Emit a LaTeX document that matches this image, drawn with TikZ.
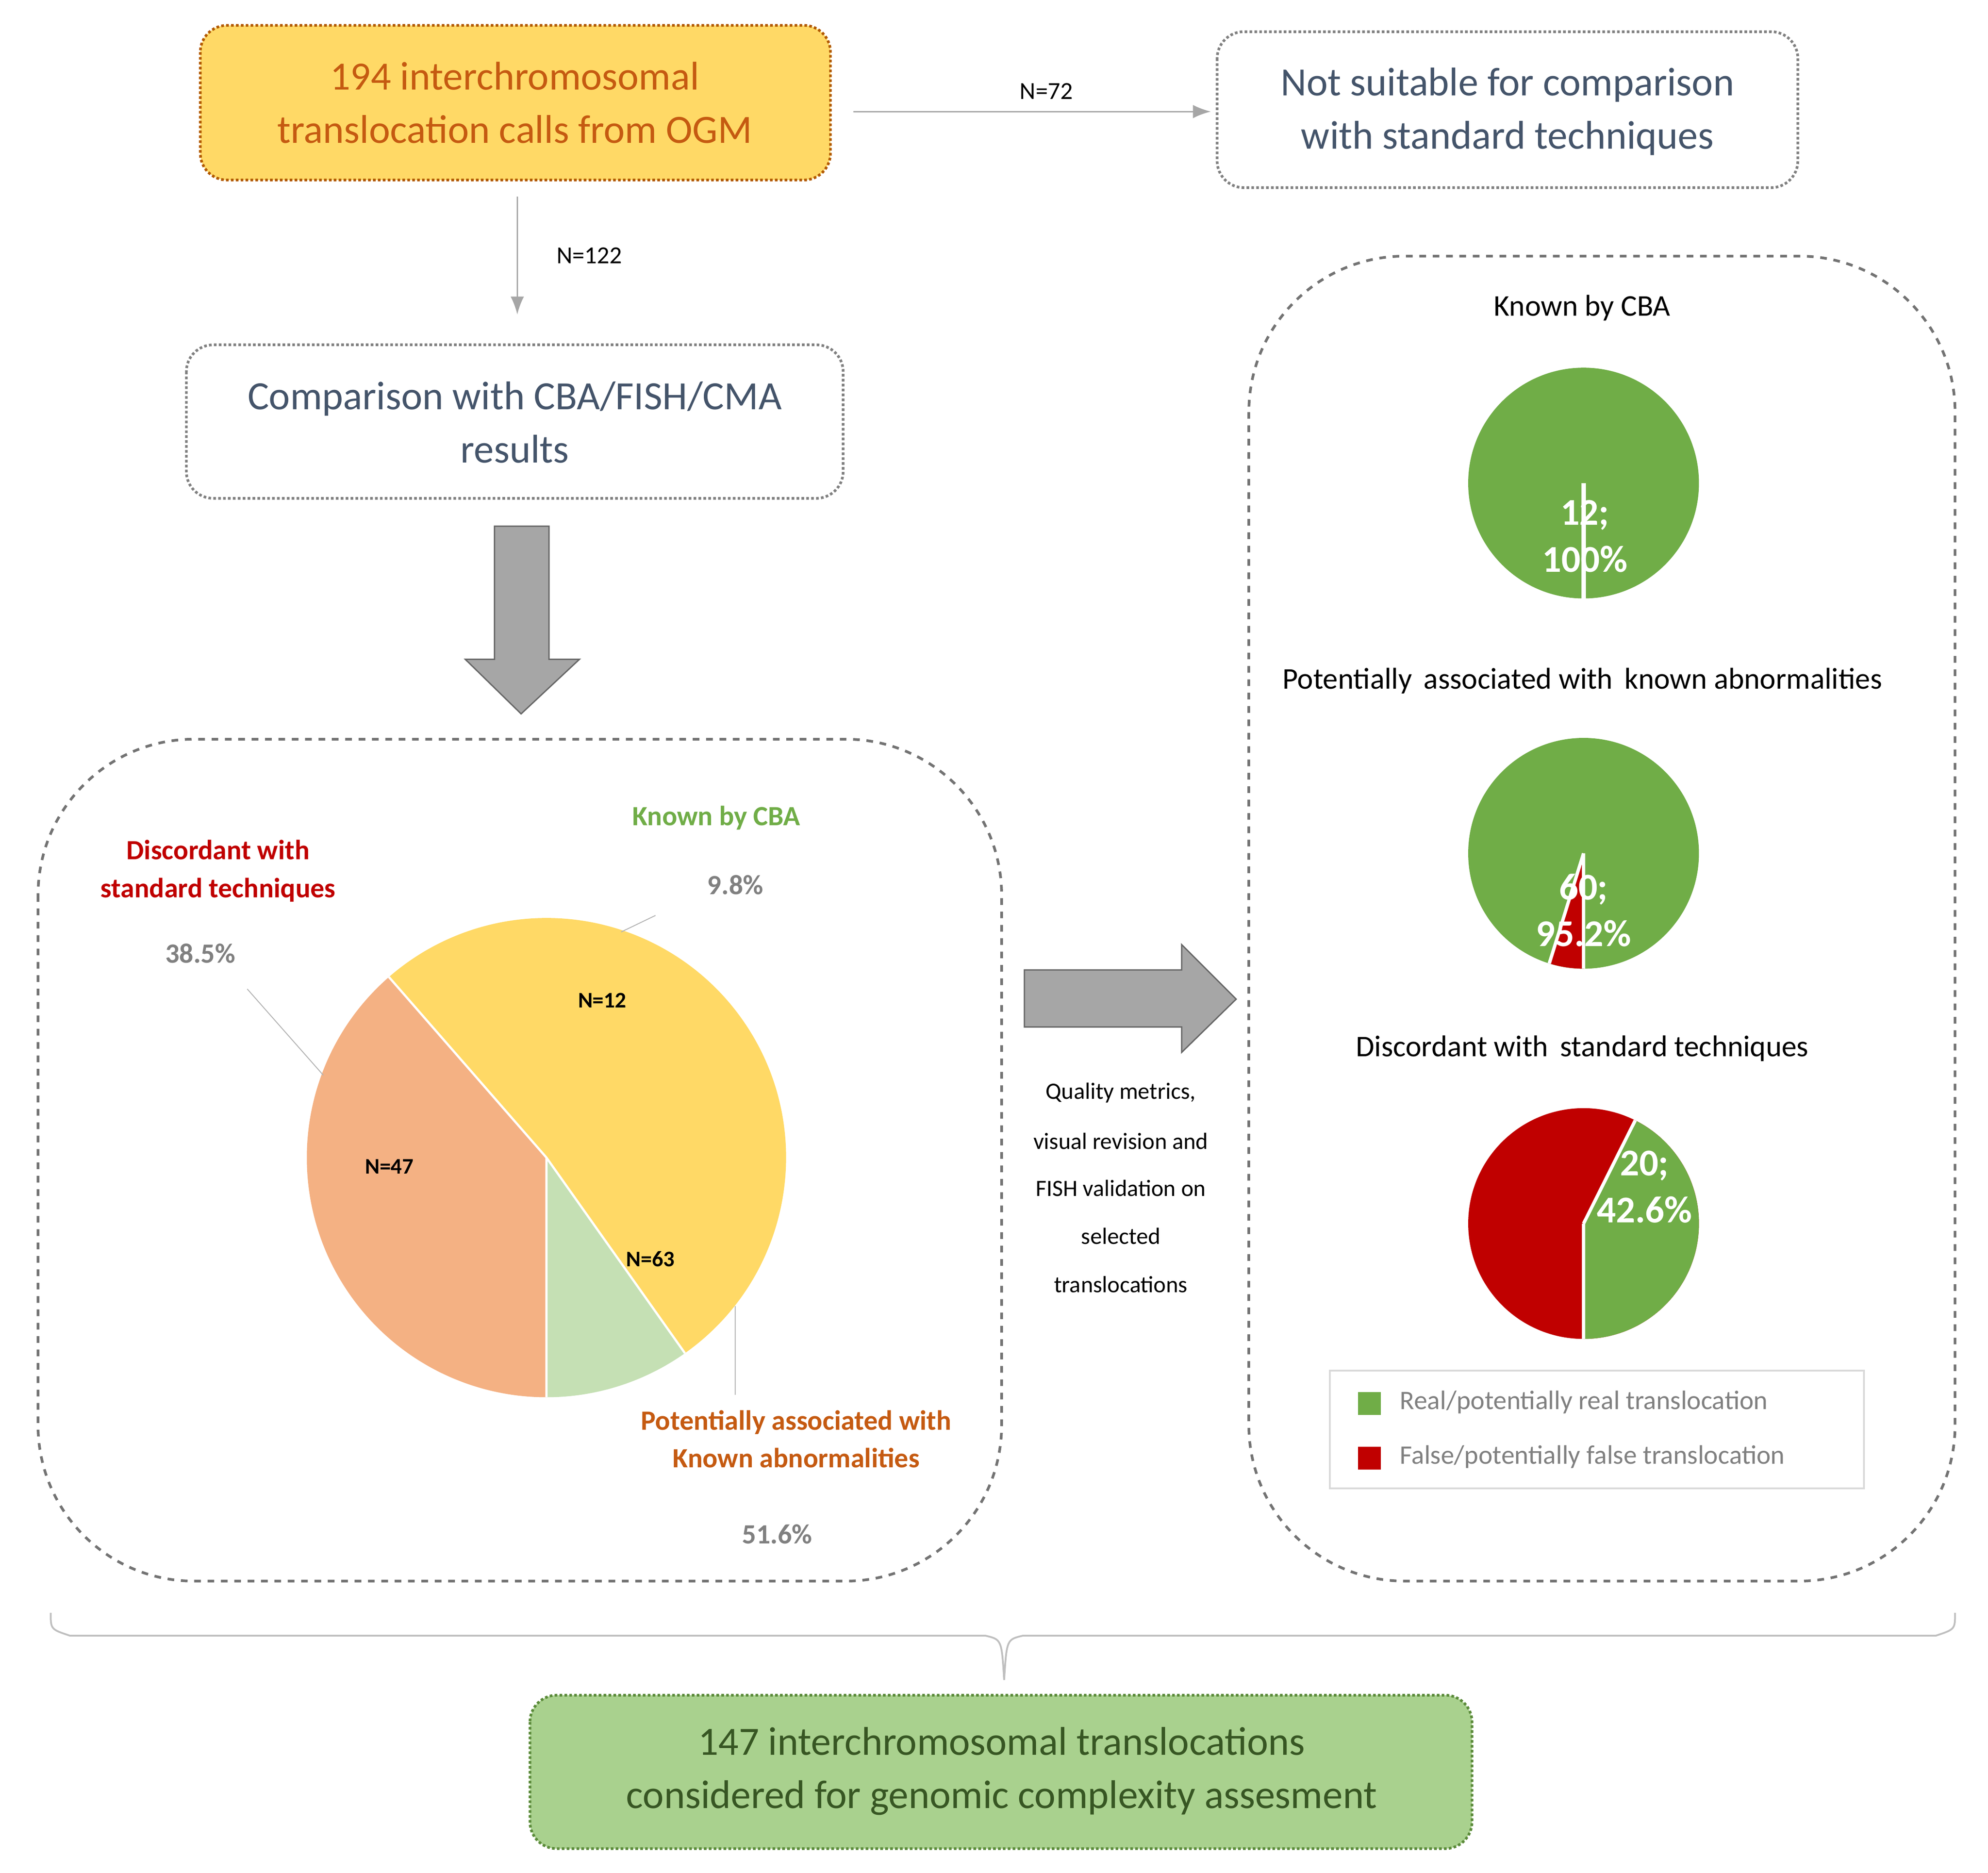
\documentclass[tikz,border=0pt]{standalone}
\usepackage{fontspec}
\setmainfont{Carlito}
\usetikzlibrary{arrows.meta}
\definecolor{ttxt}{HTML}{C55A11}
\definecolor{tfill}{HTML}{FFD966}
\definecolor{bluegray}{HTML}{44546A}
\definecolor{lgreen}{HTML}{C5E0B4}
\definecolor{salmon}{HTML}{F4B183}
\definecolor{pgreen}{HTML}{70AD47}
\definecolor{pred}{HTML}{C00000}
\definecolor{bfill}{HTML}{A9D18E}
\definecolor{btxt}{HTML}{375623}
\definecolor{garr}{HTML}{A6A6A6}
\tikzset{
 box/.style={draw=gray,densely dotted,line width=1.2pt,rounded corners=12pt},
 big/.style={font=\fontsize{18}{24}\selectfont,align=center},
 ptitle/.style={font=\fontsize{13.5}{16}\selectfont},
 nlab/.style={font=\bfseries\fontsize{10}{12}\selectfont},
 inner/.style={font=\bfseries\fontsize{17}{21}\selectfont,text=white,align=center},
 thin/.style={draw=gray!70,line width=0.6pt,-{Latex[length=8pt]}},
 qtxt/.style={font=\fontsize{10.5}{12}\selectfont},
 dashbox/.style={draw=gray!90!black,dashed,line width=1.2pt,rounded corners=70pt},
 blk/.style={fill=garr,draw=gray!80!black,line width=0.6pt},
}
\begin{document}
\begin{tikzpicture}[x=0.02cm,y=-0.02cm]
\useasboundingbox (0,0) rectangle (1568,1477);
% top boxes
\draw[box,fill=tfill,draw=orange!70!black] (158,20) rectangle (655,142);
\node[big,text=ttxt] (t1) at (406,81) {194 interchromosomal\\translocation calls from OGM};
\draw[box] (960,25) rectangle (1418,148);
\node[big,text=bluegray] (t2) at (1189,88) {Not suitable for comparison\\with standard techniques};
\coordinate (a1) at (673,88); \coordinate (a2) at (955,88);
\draw[thin] (a1) -- node[above,font=\fontsize{11}{13}\selectfont,pos=0.54,yshift=2pt]{N=72} (a2);
\coordinate (b1) at (408,155); \coordinate (b2) at (408,248);
\draw[thin] (b1) -- node[right,font=\fontsize{11}{13}\selectfont,xshift=14pt]{N=122} (b2);
\draw[box] (147,272) rectangle (665,393);
\node[big,text=bluegray] (t3) at (406,333) {Comparison with CBA/FISH/CMA\\results};
% down block arrow
\draw[blk] (390,415) -- (433,415) -- (433,520) -- (457,520) -- (411,563) -- (367,520) -- (390,520) -- cycle;
% left dashed box
\draw[dashbox] (30,583) rectangle (790,1247);
% big pie
\def\R{189}
\fill[lgreen] (431,913) -- ++(90:\R) arc[start angle=90,end angle=54.7,radius=\R] -- cycle;
\fill[tfill] (431,913) -- ++(54.7:\R) arc[start angle=54.7,end angle=-131.1,radius=\R] -- cycle;
\fill[salmon] (431,913) -- ++(-131.1:\R) arc[start angle=-131.1,end angle=-270,radius=\R] -- cycle;
\draw[white,line width=1pt] (431,913) -- ++(90:\R) (431,913) -- ++(54.7:\R) (431,913) -- ++(-131.1:\R);
\node[nlab] (n12) at (475,789) {N=12};
\node[nlab] (n47) at (307,920) {N=47};
\node[nlab] (n63) at (513,993) {N=63};
\node[font=\bfseries\fontsize{12.5}{15}\selectfont,text=pgreen] (k1) at (565,645) {Known by CBA};
\node[font=\bfseries\fontsize{12.5}{15}\selectfont,text=gray] (p1) at (580,698) {9.8\%};
\node[font=\bfseries\fontsize{12.5}{17}\selectfont,text=pred,align=center] (d1) at (172,687) {Discordant with\\standard techniques};
\node[font=\bfseries\fontsize{12.5}{15}\selectfont,text=gray] (p2) at (158,752) {38.5\%};
\node[font=\bfseries\fontsize{12.5}{17}\selectfont,text=ttxt,align=center] (q1) at (628,1135) {Potentially associated with\\Known abnormalities};
\node[font=\bfseries\fontsize{12.5}{15}\selectfont,text=gray] (p3) at (613,1210) {51.6\%};
\coordinate (l1a) at (517,722); \coordinate (l1b) at (490,735);
\draw[gray!60] (l1a) -- (l1b);
\coordinate (l2a) at (195,780); \coordinate (l2b) at (255,848);
\draw[gray!60] (l2a) -- (l2b);
\coordinate (l3a) at (580,1030); \coordinate (l3b) at (580,1100);
\draw[gray!60] (l3a) -- (l3b);
% right block arrow
\draw[blk] (808,765) -- (932,765) -- (932,745) -- (975,788) -- (932,830) -- (932,810) -- (808,810) -- cycle;
\node[qtxt] (qm1) at (884,862) {Quality metrics,};
\node[qtxt] (qm2) at (884,900) {visual revision and};
\node[qtxt] (qm3) at (884,937) {FISH validation on};
\node[qtxt] (qm4) at (884,975) {selected};
\node[qtxt] (qm5) at (884,1013) {translocations};
% right dashed box
\draw[dashbox] (985,202) rectangle (1542,1247);
\def\r{91}
\node[ptitle] (pt1) at (1248,243) {Known by CBA};
\fill[pgreen] (1249,381) circle[radius=\r];
\draw[white,line width=2pt] (1249,381) -- ++(90:\r);
\node[inner] (i1) at (1250,423) {12;\\100\%};
\node[ptitle] (pt2) at (1248,537) {Potentially\, associated with\, known abnormalities};
\fill[pgreen] (1249,673) circle[radius=\r];
\fill[pred] (1249,673) -- ++(90:\r) arc[start angle=90,end angle=107.3,radius=\r] -- cycle;
\draw[white,line width=1.5pt] (1249,673) -- ++(90:\r) (1249,673) -- ++(107.3:\r);
\node[inner] (i2) at (1249,718) {60;\\95.2\%};
\node[ptitle] (pt3) at (1248,827) {Discordant with\, standard techniques};
\fill[pred] (1249,965) circle[radius=\r];
\fill[pgreen] (1249,965) -- ++(90:\r) arc[start angle=90,end angle=-63.4,radius=\r] -- cycle;
\draw[white,line width=1.5pt] (1249,965) -- ++(90:\r) (1249,965) -- ++(-63.4:\r);
\node[inner] (i3) at (1297,936) {20;\\42.6\%};
% legend
\draw[gray!30,line width=0.8pt] (1049,1081) rectangle (1470,1174);
\fill[pgreen] (1071,1098) rectangle (1089,1116);
\fill[pred] (1071,1141) rectangle (1089,1159);
\node[anchor=west,text=gray,font=\fontsize{12}{14}\selectfont] (lg1) at (1098,1106) {Real/potentially real translocation};
\node[anchor=west,text=gray,font=\fontsize{12}{14}\selectfont] (lg2) at (1098,1149) {False/potentially false translocation};
% brace
\draw[gray!50,line width=0.8pt] (40,1272) .. controls (40,1285) .. (55,1290) -- (777,1290) .. controls (790,1293) .. (792,1325) .. controls (794,1293) .. (807,1290) -- (1527,1290) .. controls (1542,1285) .. (1542,1272);
% bottom box
\draw[box,fill=bfill,draw=pgreen!80!black] (418,1337) rectangle (1161,1458);
\node[big,text=btxt] (t4) at (790,1397) {147 interchromosomal translocations\\considered for genomic complexity assesment};
\end{tikzpicture}
\end{document}
